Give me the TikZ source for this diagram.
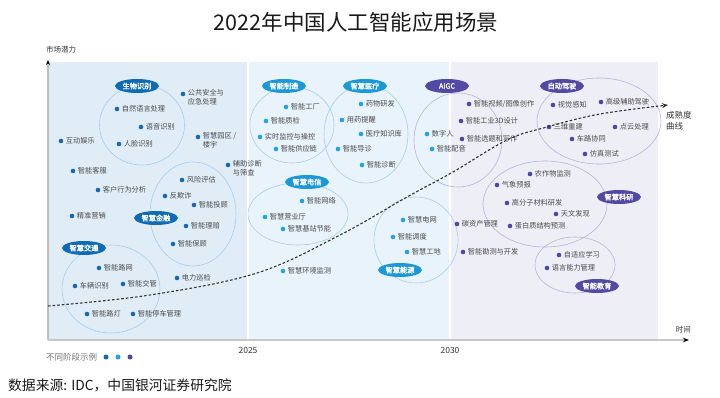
\documentclass[tikz,border=0pt]{standalone}
\usepackage{fontspec}
\setmainfont{Noto Sans CJK SC}[AutoFakeBold=2]
\usetikzlibrary{shapes.geometric,arrows.meta}
\definecolor{sA}{HTML}{1769B3}
\definecolor{sB}{HTML}{22A2E2}
\definecolor{sC}{HTML}{4D46A3}
\definecolor{pA}{HTML}{0E6BB4}
\definecolor{pB}{HTML}{1C98D8}
\definecolor{pC}{HTML}{5249A2}
\definecolor{bgA}{HTML}{E0EDF7}
\definecolor{bgB}{HTML}{E9F3FB}
\definecolor{bgC}{HTML}{EEEEF6}
\definecolor{ringB}{HTML}{A9CCE6}
\definecolor{ringC}{HTML}{B7B5D9}
\definecolor{txt}{HTML}{4A4A4A}
\newcommand\itm[4]{%
  \node[dot,fill=#1] (#2d) at (#3) {};
  \node[itxt,anchor=west] (#2) at ([xshift=2.2pt]#2d.east) {#4};}
\newcommand\itmm[4]{%
  \node[dot,fill=#1] (#2d) at (#3) {};
  \node[itxt,anchor=north west,align=left] (#2) at ([xshift=2.2pt,yshift=4.6pt]#2d.east) {#4};}
\begin{document}
\begin{tikzpicture}[x=1pt,y=-1pt,
  dot/.style={circle,inner sep=0pt,minimum size=4.6pt,draw=none},
  itxt/.style={inner sep=0pt,text=txt,font=\fontsize{7.2}{9.2}\selectfont},
  pill/.style={ellipse,inner sep=0pt,minimum width=44pt,minimum height=14pt,text=white,font=\fontsize{7.2}{8}\selectfont\bfseries},
  ring/.style={ellipse,inner sep=0pt,outer sep=0pt,line width=0.6pt},
  lab/.style={inner sep=0pt,text=black!80,font=\fontsize{7.5}{9.5}\selectfont}]
\useasboundingbox (0,0) rectangle (720,398);
% backgrounds
\fill[bgA] (49,62) rectangle (247,339);
\fill[bgB] (248.8,62) rectangle (449,339);
\fill[bgC] (450.8,62) rectangle (658,339);
% title
\node[inner sep=0pt,font=\fontsize{21.5}{24}\selectfont,text=black!90] (title) at (356,22) {2022年中国人工智能应用场景};
% axes
\node[lab,anchor=west] (ylab) at (46,50) {市场潜力};
\coordinate (o) at (48,340);
\coordinate (ytop) at (48,60);
\coordinate (xend) at (689,340);
\draw[line width=1.2pt,black!25,-{Stealth[black,length=5pt,width=4pt]}] (o) -- (ytop);
\draw[line width=2pt,black!22,-{Stealth[black,length=6pt,width=4.5pt]}] (o) -- (xend);
\node[lab,font=\fontsize{8.5}{9}\selectfont] (y25) at (248,350) {2025};
\node[lab,font=\fontsize{8.5}{9}\selectfont] (y30) at (450,350) {2030};
\node[lab,anchor=east] (tlab) at (691,330) {时间};
% rings
\node[ring,draw=ringB,minimum width=85pt,minimum height=80pt] (r1) at (142,125) {};
\node[ring,draw=ringB,minimum width=86pt,minimum height=104pt] (r2) at (193,214) {};
\node[ring,draw=ringB,minimum width=98pt,minimum height=88pt] (r3) at (111,289) {};
\node[ring,draw=ringB,minimum width=84pt,minimum height=76pt] (r4) at (292,125) {};
\node[ring,draw=ringB,minimum width=84pt,minimum height=98pt] (r5) at (366,134) {};
\node[ring,draw=ringC,minimum width=88pt,minimum height=94pt] (r6) at (458,140) {};
\node[ring,draw=ringB,minimum width=100pt,minimum height=62pt] (r7) at (298,214) {};
\node[ring,draw=ringB,minimum width=84pt,minimum height=86pt] (r8) at (416,240) {};
\node[ring,draw=ringC,minimum width=124pt,minimum height=86pt] (r9) at (599,121) {};
\node[ring,draw=ringC,minimum width=124pt,minimum height=86pt] (r10) at (545,204) {};
\node[ring,draw=ringC,minimum width=80pt,minimum height=56pt] (r11) at (575,265) {};
% pills
\node[pill,fill=pA] (p1) at (137,86) {生物识别};
\node[pill,fill=pA] (p2) at (156,218) {智慧金融};
\node[pill,fill=pA] (p3) at (84,248) {智慧交通};
\node[pill,fill=pB] (p4) at (284,86) {智能制造};
\node[pill,fill=pB] (p5) at (365,86) {智慧医疗};
\node[pill,fill=pC] (p6) at (447,86) {AIGC};
\node[pill,fill=pB] (p7) at (307,182) {智慧电信};
\node[pill,fill=pB] (p8) at (400,270) {智慧能源};
\node[pill,fill=pC] (p9) at (562,86) {自动驾驶};
\node[pill,fill=pC] (p10) at (619,197) {智慧科研};
\node[pill,fill=pC] (p11) at (597,286) {智能教育};
% stage 1 items
\itmm{sA}{a1}{183,94}{公共安全与\\应急处理}
\itm{sA}{a2}{117,109}{自然语言处理}
\itm{sA}{a3}{141,127}{语音识别}
\itm{sA}{a4}{119,144}{人脸识别}
\itm{sA}{a5}{61,141}{互动娱乐}
\itmm{sA}{a6}{198,137}{智慧园区 /\\楼宇}
\itmm{sA}{a7}{228,165}{辅助诊断\\与筛查}
\itm{sA}{a8}{73,171}{智能客服}
\itm{sA}{a9}{182,180}{风险评估}
\itm{sA}{a10}{98,190}{客户行为分析}
\itm{sA}{a11}{165,196}{反欺诈}
\itm{sA}{a12}{194,205}{智能投顾}
\itm{sA}{a13}{72,216}{精准营销}
\itm{sA}{a14}{186,226}{智能理赔}
\itm{sA}{a15}{173,244}{智能保顾}
\itm{sA}{a16}{99,268}{智能路网}
\itm{sA}{a17}{75,286}{车辆识别}
\itm{sA}{a18}{123,284}{智能交管}
\itm{sA}{a19}{177,278}{电力巡检}
\itm{sA}{a20}{87,314}{智能路灯}
\itm{sA}{a21}{133,314}{智能停车管理}
% stage 2 items
\itm{sB}{b1}{286,107}{智能工厂}
\itm{sB}{b2}{266,121}{智能质检}
\itm{sB}{b3}{260,137}{实时监控与操控}
\itm{sB}{b4}{276,149}{智能供应链}
\itm{sB}{b5}{361,104}{药物研发}
\itm{sB}{b6}{342,120}{用药提醒}
\itm{sB}{b7}{361,134}{医疗知识库}
\itm{sB}{b8}{338,149}{智能导诊}
\itm{sB}{b9}{362,165}{智能诊断}
\itm{sB}{b10}{427,134}{数字人}
\itm{sB}{b11}{432,149}{智能配音}
\itm{sB}{b12}{302,201}{智能网络}
\itm{sB}{b13}{265,217}{智慧营业厅}
\itm{sB}{b14}{283,229}{智慧基站节能}
\itm{sB}{b15}{283,271}{智慧环境监测}
\itm{sB}{b16}{403,220}{智慧电网}
\itm{sB}{b17}{393,237}{智能调度}
\itm{sB}{b18}{407,252}{智慧工地}
% stage 3 items
\itm{sC}{d1}{469,104}{智能视频/图像创作}
\itm{sC}{d2}{461,121}{智能工业3D设计}
\itm{sC}{d3}{462,139}{智能选题和写作}
\itm{sC}{d4}{553,105}{视觉感知}
\itm{sC}{d5}{601,102}{高级辅助驾驶}
\itm{sC}{d6}{549,127}{三维重建}
\itm{sC}{d7}{615,127}{点云处理}
\itm{sC}{d8}{572,139}{车路协同}
\itm{sC}{d9}{585,154}{仿真测试}
\itm{sC}{d10}{530,174}{农作物监测}
\itm{sC}{d11}{497,185}{气象预报}
\itm{sC}{d12}{507,203}{高分子材料研发}
\itm{sC}{d13}{556,214}{天文发现}
\itm{sC}{d14}{457,224}{碳资产管理}
\itm{sC}{d15}{510,226}{蛋白质结构预测}
\itm{sC}{d16}{463,252}{智能勘测与开发}
\itm{sC}{d17}{559,255}{自适应学习}
\itm{sC}{d18}{547,268}{语言能力管理}
% maturity curve
\draw[line width=1.1pt,black!80,dash pattern=on 2.6pt off 2pt,-{Stealth[length=6pt,width=5pt]}]
  plot[smooth,tension=0.6] coordinates {(48,306) (150,295) (257,273) (340,235) (407,197) (453,172) (507,140) (547,127) (600,114) (668,105)};
\node[lab,anchor=north west,align=left,font=\fontsize{8.5}{11.5}\selectfont] (mlab) at (666,111) {成熟度\\曲线};
% legend
\node[lab,anchor=west,text=black!55,font=\fontsize{8.5}{9}\selectfont] (leg) at (46,357) {不同阶段示例};
\node[dot,fill=sA,minimum size=5pt] (l1) at (106,357) {};
\node[dot,fill=sB,minimum size=5pt] (l2) at (118,357) {};
\node[dot,fill=sC,minimum size=5pt] (l3) at (130,357) {};
% source
\node[inner sep=0pt,anchor=west,font=\fontsize{13.8}{15}\selectfont,text=black!90] (src) at (8,385) {数据来源: IDC，中国银河证券研究院};
\end{tikzpicture}
\end{document}
